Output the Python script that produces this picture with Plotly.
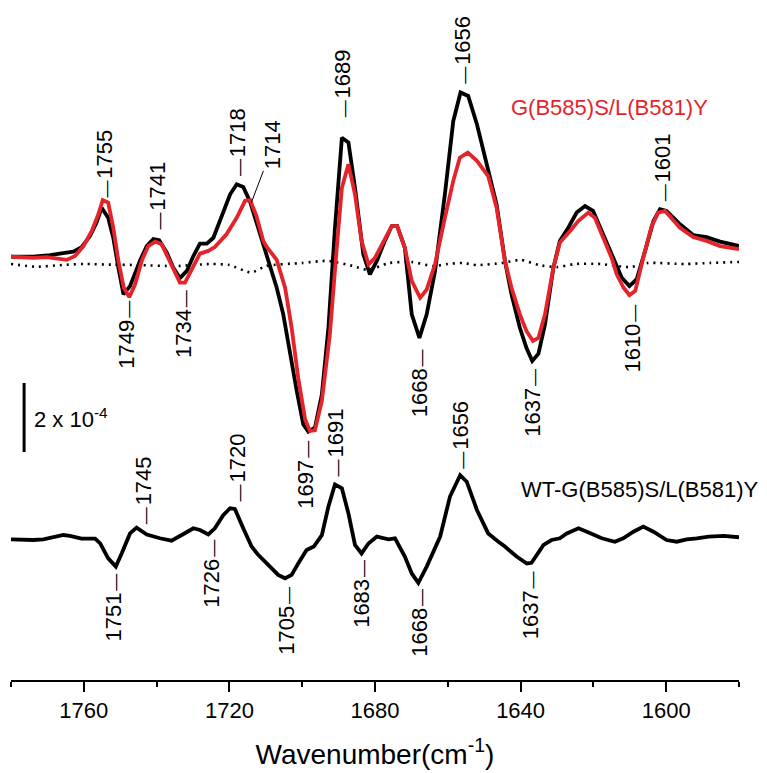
import numpy as np
import plotly.graph_objects as go

# Difference spectra, absorbance in units of 1e-4
wn_black = [1780, 1773.9, 1769.3, 1765.6, 1762.9, 1760.6, 1758.3, 1756.5, 1755.1, 1753.3,
            1751.9, 1750.5, 1749.1, 1747.3, 1744.6, 1742.7, 1740.9, 1739.3, 1737.2, 1735.4,
            1733.6, 1731.7, 1729.9, 1728.1, 1726.2, 1724.4, 1722.1, 1719.8, 1718.0, 1716.2,
            1714.3, 1713.0, 1710.7, 1708.8, 1707.0, 1705.2, 1703.4, 1701.5, 1699.7, 1698.3,
            1696.5, 1694.6, 1692.8, 1691.0, 1689.1, 1687.3, 1685.5, 1683.2, 1681.4, 1679.5,
            1677.3, 1675.4, 1673.9, 1671.8, 1669.9, 1667.8, 1665.8, 1663.5, 1660.8, 1658.5,
            1656.5, 1654.4, 1652.0, 1649.3, 1646.6, 1644.3, 1642.5, 1640.2, 1638.4, 1636.8,
            1635.1, 1633.3, 1631.0, 1629.2, 1626.9, 1624.6, 1622.3, 1620.1, 1617.7, 1615.0,
            1612.2, 1610.1, 1608.1, 1605.8, 1603.5, 1601.7, 1599.9, 1596.2, 1592.6, 1588.9,
            1585.2, 1580.0]
ab_black = [0.21, 0.21, 0.26, 0.33, 0.36, 0.49, 0.81, 1.20, 1.63, 1.34,
            0.76, -0.11, -0.88, -0.64, 0.09, 0.52, 0.72, 0.69, 0.33, -0.11,
            -0.41, -0.20, 0.23, 0.59, 0.59, 0.76, 1.39, 2.02, 2.31, 2.23,
            1.80, 1.34, 0.57, -0.11, -0.69, -1.46, -2.62, -3.68, -4.65, -4.86,
            -4.74, -3.78, -1.85, 1.05, 3.66, 3.52, 2.21, 0.28, -0.30, 0.09,
            0.67, 1.10, 1.10, 0.47, -1.46, -2.14, -1.46, -0.20, 2.02, 4.14,
            4.97, 4.87, 4.05, 2.89, 1.73, 0.09, -0.88, -1.85, -2.43, -2.81,
            -2.60, -1.75, -0.11, 0.67, 1.05, 1.49, 1.68, 1.54, 0.96, 0.33,
            -0.40, -0.64, -0.44, 0.38, 1.25, 1.59, 1.54, 1.15, 0.84, 0.78,
            0.65, 0.52]

wn_red = [1780, 1773.9, 1770.2, 1767.4, 1764.7, 1762.4, 1760.1, 1757.8, 1756.0, 1754.8,
          1753.3, 1751.9, 1750.5, 1749.0, 1747.5, 1745.9, 1744.1, 1742.3, 1740.4, 1738.6,
          1736.8, 1734.9, 1733.6, 1732.2, 1730.4, 1728.1, 1725.8, 1724.0, 1720.8, 1718.0,
          1715.7, 1714.3, 1712.6, 1710.7, 1709.8, 1707.0, 1704.7, 1702.9, 1701.1, 1699.2,
          1697.9, 1696.5, 1694.6, 1692.4, 1690.5, 1689.1, 1687.3, 1685.5, 1683.7, 1681.8,
          1680.0, 1677.7, 1675.4, 1673.9, 1671.8, 1669.9, 1667.6, 1665.8, 1663.5, 1660.8,
          1658.5, 1656.7, 1654.5, 1652.0, 1648.9, 1646.6, 1644.3, 1642.5, 1640.2, 1638.4,
          1636.6, 1635.1, 1633.3, 1631.0, 1629.2, 1626.4, 1624.1, 1621.4, 1619.6, 1617.3,
          1615.0, 1613.6, 1611.7, 1610.1, 1608.5, 1606.3, 1604.0, 1602.2, 1600.3, 1596.2,
          1592.6, 1588.9, 1585.2, 1580.0]
ab_red = [0.21, 0.18, 0.20, 0.15, 0.12, 0.23, 0.52, 0.96, 1.44, 1.85,
          1.78, 1.05, 0.09, -0.69, -0.96, -0.59, 0.09, 0.52, 0.65, 0.57,
          0.18, -0.25, -0.54, -0.54, -0.15, 0.30, 0.38, 0.49, 0.86, 1.34,
          1.83, 1.85, 1.40, 0.67, 0.50, 0.12, -0.69, -1.85, -3.30, -4.50,
          -4.84, -4.82, -3.97, -2.04, 0.47, 2.21, 2.89, 2.02, 0.67, -0.01,
          0.18, 0.67, 1.10, 1.10, 0.47, -0.49, -0.98, -0.74, 0.00, 1.34,
          2.41, 3.08, 3.23, 2.99, 2.55, 1.63, 0.09, -0.69, -1.46, -1.94,
          -2.23, -2.14, -1.46, -0.11, 0.62, 0.96, 1.25, 1.49, 1.34, 0.76,
          0.18, -0.30, -0.69, -0.90, -0.78, 0.18, 1.10, 1.49, 1.54, 1.05,
          0.78, 0.67, 0.52, 0.43]

wn_noise = [1780, 1773, 1766, 1760, 1752, 1745, 1735, 1725, 1720, 1714, 1710, 1700, 1693,
            1686, 1682, 1676, 1670, 1664, 1660, 1656, 1652, 1645, 1640, 1635, 1630, 1625,
            1618, 1610, 1605, 1595, 1588, 1580]
ab_noise = [0.00, -0.08, -0.03, 0.00, -0.02, -0.03, -0.06, 0.00, -0.03, -0.25, -0.06, 0.03, 0.09,
            -0.06, -0.17, 0.03, 0.06, -0.06, 0.00, 0.03, -0.03, 0.03, 0.12, -0.03, -0.09, 0.00,
            0.00, -0.09, 0.03, 0.00, 0.03, 0.06]

wn_wt = [1780, 1773.9, 1771.1, 1765.6, 1763.8, 1760.6, 1756.9, 1755.5, 1753.3, 1751.2,
         1749.6, 1747.3, 1745.5, 1742.7, 1739.1, 1735.9, 1733.1, 1729.9, 1728.1, 1725.8,
         1724.0, 1721.7, 1719.8, 1718.5, 1716.2, 1713.9, 1712.1, 1708.8, 1706.6, 1704.7,
         1702.9, 1701.1, 1698.8, 1696.8, 1694.6, 1692.8, 1691.0, 1689.1, 1687.3, 1685.5,
         1683.7, 1681.8, 1679.5, 1676.3, 1674.5, 1671.8, 1669.9, 1668.1, 1665.8, 1662.1,
         1659.4, 1656.6, 1654.8, 1652.0, 1648.9, 1646.1, 1644.3, 1641.1, 1638.3, 1637.0,
         1633.7, 1631.5, 1629.2, 1627.3, 1624.1, 1621.8, 1617.7, 1614.1, 1611.8, 1609.0,
         1606.3, 1603.5, 1599.9, 1597.1, 1594.4, 1591.6, 1588.3, 1584.2, 1580.0]
ab_wt = [0.02, 0.00, 0.02, 0.145, 0.12, 0.04, 0.04, -0.10, -0.53, -0.77,
         -0.39, 0.19, 0.36, 0.16, 0.05, -0.02, 0.145, 0.34, 0.29, 0.16,
         0.34, 0.72, 0.92, 0.90, 0.34, -0.19, -0.43, -0.77, -1.01, -1.11,
         -1.01, -0.68, -0.29, -0.19, 0.14, 0.97, 1.61, 1.50, 0.77, -0.14,
         -0.39, -0.10, 0.10, 0.02, 0.05, -0.48, -0.97, -1.24, -0.77, 0.10,
         1.26, 1.88, 1.69, 0.87, 0.19, -0.05, -0.19, -0.48, -0.68, -0.66,
         -0.14, 0.00, 0.05, 0.19, 0.34, 0.24, 0.05, -0.05, 0.05, 0.24,
         0.39, 0.24, 0.00, -0.05, 0.02, 0.05, 0.10, 0.12, 0.08]

# Vertical offset of the upper pair of spectra
upper_offset = 8.0

# Peak annotations: (wavenumber, spectrum, side, x nudge px, gap px)
peak_labels = [
    (1755, "red", "up", 3, 3),
    (1741, "black", "up", 5, 8),
    (1718, "black", "up", 1, 6),
    (1689, "black", "up", 1, 19),
    (1656, "black", "up", 0, 8),
    (1601, "black", "up", 0, 6),
    (1749, "red", "down", 3, -11),
    (1734, "red", "down", 5, -8),
    (1697, "red", "down", -8, -8),
    (1668, "black", "down", 1, -12),
    (1637, "black", "down", 1, -8),
    (1610, "red", "down", 3, -8),
    (1745, "wt", "up", 5, 3),
    (1720, "wt", "up", 9, 6),
    (1691, "wt", "up", 0, 6),
    (1656, "wt", "up", -2, 7),
    (1751, "wt", "down", -3, -7),
    (1726, "wt", "down", 4, -4),
    (1705, "wt", "down", 3, -7),
    (1683, "wt", "down", -2, -8),
    (1668, "wt", "down", 0, -5),
    (1637, "wt", "down", -1, -7),
]

RED = "#e5232a"
FONT = "Arial, Liberation Sans, sans-serif"
DASH = "<span style='font-size:17px'>\u2014</span>"

spectra = {
    "black": (wn_black, [v + upper_offset for v in ab_black]),
    "red": (wn_red, [v + upper_offset for v in ab_red]),
    "wt": (wn_wt, ab_wt),
}

fig = go.Figure()
fig.add_trace(go.Scatter(x=wn_noise, y=[v + upper_offset for v in ab_noise], mode="lines",
                         line=dict(color="black", width=2.6, dash="2px,5px", shape="spline", smoothing=0.6),
                         hoverinfo="skip"))
fig.add_trace(go.Scatter(x=spectra["black"][0], y=spectra["black"][1], mode="lines",
                         line=dict(color="black", width=3.8), hoverinfo="skip"))
fig.add_trace(go.Scatter(x=spectra["red"][0], y=spectra["red"][1], mode="lines",
                         line=dict(color=RED, width=3.8), hoverinfo="skip"))
fig.add_trace(go.Scatter(x=spectra["wt"][0], y=spectra["wt"][1], mode="lines",
                         line=dict(color="black", width=3.8), hoverinfo="skip"))


def value_at(name, w):
    xs, ys = spectra[name]
    return float(np.interp(w, xs[::-1], ys[::-1]))


annotations = []
for w, name, side, dx, gap in peak_labels:
    if side == "up":
        txt = DASH + "\u200a" + str(w)
        yanchor = "bottom"
    else:
        txt = str(w) + "\u200a" + DASH
        yanchor = "top"
    annotations.append(dict(x=w, y=value_at(name, w), text=txt, textangle=-90,
                            showarrow=False, xanchor="center", yanchor=yanchor,
                            xshift=dx, yshift=gap,
                            font=dict(family=FONT, size=22, color="black")))

# 1714 shoulder of the red spectrum, labelled with a leader line
annotations.append(dict(x=1714, y=value_at("red", 1714), text="1714", textangle=-90,
                        showarrow=True, arrowhead=0, arrowwidth=1, arrowcolor="black",
                        ax=22, ay=-58, standoff=0,
                        font=dict(family=FONT, size=22, color="black")))

# Spectrum names
annotations.append(dict(x=1643.3, y=12.55, text="G(B585)S/L(B581)Y", showarrow=False,
                        xanchor="left", yanchor="middle",
                        font=dict(family=FONT, size=22, color=RED)))
annotations.append(dict(x=1640.5, y=1.45, text="WT-G(B585)S/L(B581)Y", showarrow=False,
                        xanchor="left", yanchor="middle",
                        font=dict(family=FONT, size=22, color="black")))

# Absorbance scale bar: 2 x 10^-4
bar_x, bar_y0, bar_len = 1776.4, 2.55, 2.0
fig.add_shape(type="line", x0=bar_x, x1=bar_x, y0=bar_y0, y1=bar_y0 + bar_len,
              line=dict(color="black", width=3))
annotations.append(dict(x=1774.2, y=bar_y0 + bar_len * 0.5, text="2 x 10<sup>-4</sup>",
                        showarrow=False, xanchor="left", yanchor="middle",
                        font=dict(family=FONT, size=22, color="black")))

fig.update_layout(
    width=767, height=773,
    margin=dict(l=11, r=28, t=0, b=93),
    paper_bgcolor="white", plot_bgcolor="white",
    showlegend=False,
    annotations=annotations,
    font=dict(family=FONT, size=22, color="black"),
    xaxis=dict(
        range=[1780, 1580], showgrid=False, zeroline=False,
        showline=True, linecolor="black", linewidth=2,
        ticks="outside", ticklen=10, tickwidth=2, tickcolor="black",
        tick0=1760, dtick=40,
        minor=dict(ticks="outside", ticklen=5, tickwidth=2, tickcolor="black", dtick=20, tick0=1760),
        tickfont=dict(family=FONT, size=22, color="black"),
        title=dict(text="Wavenumber(cm<sup>-1</sup>)", font=dict(family=FONT, size=28, color="black"),
                   standoff=22),
    ),
    yaxis=dict(range=[-4.058, 15.652], visible=False),
)

fig.write_html("out.html")
